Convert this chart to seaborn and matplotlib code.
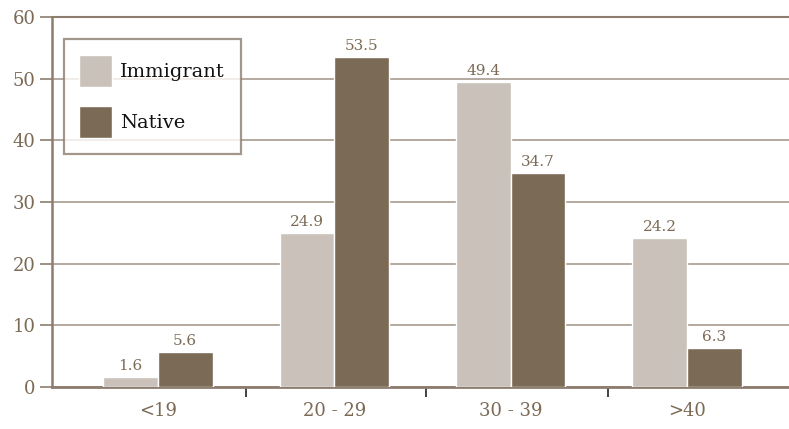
import matplotlib
matplotlib.use("Agg")
import matplotlib.pyplot as plt
import seaborn as sns
import pandas as pd
from matplotlib.ticker import FixedLocator

# Age groups and percentage shares
age_groups = ["<19", "20 - 29", "30 - 39", ">40"]
immigrant = [1.6, 24.9, 49.4, 24.2]
native = [5.6, 53.5, 34.7, 6.3]
series_names = ["Immigrant", "Native"]
y_ticks = [0, 10, 20, 30, 40, 50, 60]

df = pd.DataFrame({
    "age": age_groups * 2,
    "group": [series_names[0]] * len(age_groups) + [series_names[1]] * len(age_groups),
    "value": immigrant + native,
})

light = "#C9C1BA"
dark = "#7B6A55"
axis_col = "#8C7D6E"
grid_col = "#A89B8E"
text_col = "#7B6A55"

sns.set_theme(style="white")
plt.rcParams["font.family"] = ["DejaVu Serif"]

fig = plt.figure(figsize=(7.89, 4.29), dpi=100)
ax = fig.add_axes([52 / 789, 1 - 387 / 429, 1 - 52 / 789 + 0.01, (387 - 17) / 429])

sns.barplot(data=df, x="age", y="value", hue="group", order=age_groups,
            hue_order=series_names, palette=[light, dark], width=0.62,
            edgecolor="white", linewidth=1.0, saturation=1, ax=ax, zorder=3)

ax.set_ylim(0, 60)
ax.set_xlim(-0.60, 3.623)
ax.set_yticks(y_ticks)
ax.yaxis.grid(True, color=grid_col, linewidth=1.2, zorder=0)
ax.set_axisbelow(True)

for name in ["left", "bottom", "top"]:
    ax.spines[name].set_visible(True)
    ax.spines[name].set_color(axis_col)
ax.spines["left"].set_linewidth(1.8)
ax.spines["bottom"].set_linewidth(2.0)
ax.spines["top"].set_linewidth(1.5)
ax.spines["right"].set_visible(False)

ax.tick_params(axis="y", which="major", length=9, width=1.2, color=axis_col,
               labelcolor=text_col, labelsize=13, left=True, pad=3)
ax.tick_params(axis="x", which="major", length=0, labelcolor=text_col,
               labelsize=13, pad=11)
# separators between age groups
ax.xaxis.set_minor_locator(FixedLocator([0.5, 1.52, 2.55]))
ax.tick_params(axis="x", which="minor", bottom=True, length=7, width=1.2,
               color="#222222", direction="out")

ax.set_xlabel("")
ax.set_ylabel("")

for container in ax.containers:
    ax.bar_label(container, fmt="%.1f", padding=3, fontsize=11, color=text_col)

handles, labels = ax.get_legend_handles_labels()
leg = ax.legend(handles, labels, loc="upper left", bbox_to_anchor=(0.016, 0.94),
                frameon=True, fancybox=False, fontsize=14, handlelength=1.65,
                handleheight=2.15, labelspacing=1.0, borderpad=0.8,
                handletextpad=0.45, borderaxespad=0)
leg.get_frame().set_edgecolor(axis_col)
leg.get_frame().set_linewidth(1.6)
for t in leg.get_texts():
    t.set_color("#111111")

fig.savefig("out.png", dpi=100)
